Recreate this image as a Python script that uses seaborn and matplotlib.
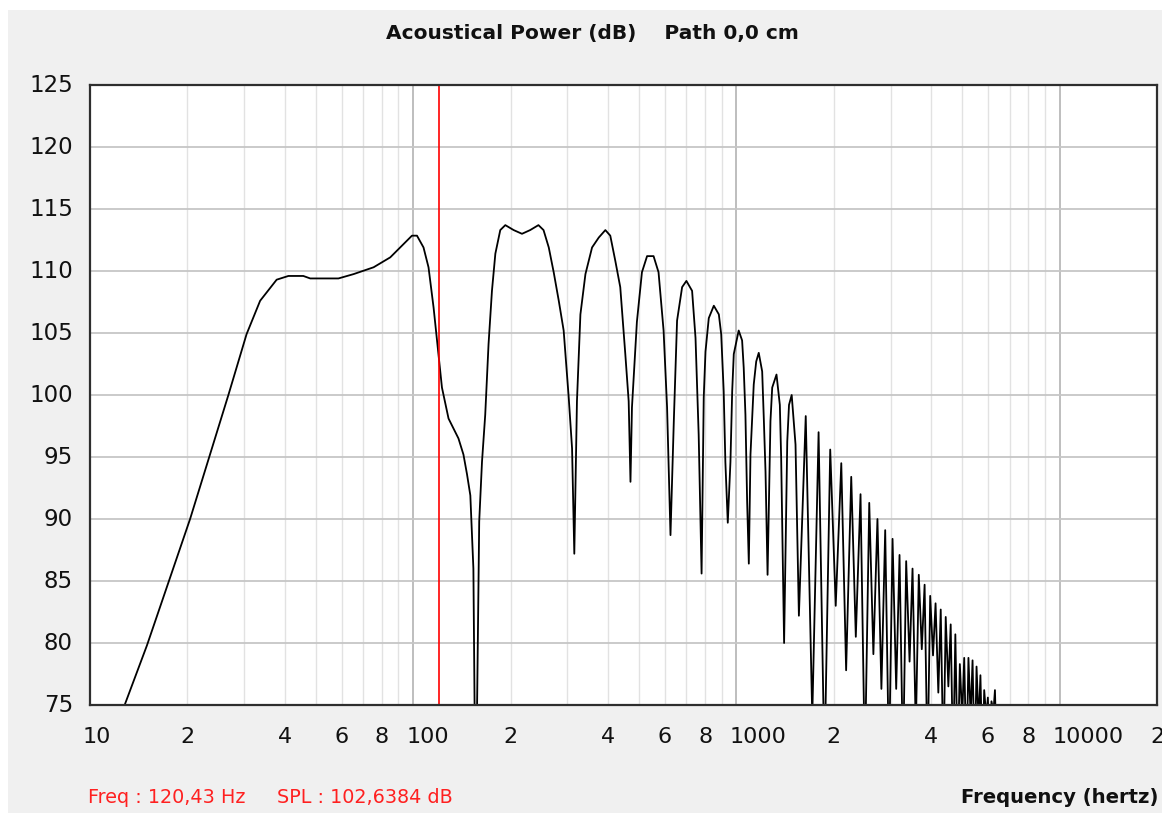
import matplotlib
matplotlib.use("Agg")
import matplotlib.pyplot as plt
import matplotlib.transforms as mtransforms
from matplotlib.patches import Rectangle
import pandas as pd
import seaborn as sns

# ---------------- data ----------------
# smooth low / mid frequency part of the response (Hz, dB)
smooth_freq = [12.8, 15.0, 20.4, 26.8, 30.5, 33.6, 37.8, 41.1, 45.7, 48.0, 58.7, 65.4, 75.4, 84.9,
               99.1, 102.7, 107.6, 111.5, 115.6, 119.7, 122.7, 128.6, 138, 143, 146.7, 150.2, 153.5,
               156, 160, 163.2, 167, 171, 175.2, 179.5, 185.9, 192.7, 204.5, 217, 230, 244, 253,
               262.6, 272, 282, 292, 302.7, 310, 315, 321, 329, 341, 357.5, 375, 393, 407, 422,
               437, 453, 464, 470, 475, 492, 510, 529, 554, 574, 595, 610, 625, 640, 655, 679,
               700, 729, 747, 764, 780, 792, 802, 821, 851, 882, 897, 913, 924, 940, 958, 970,
               981, 1016, 1041, 1053, 1066, 1079, 1092, 1105, 1131, 1151, 1172, 1201, 1215, 1230,
               1248, 1274, 1290, 1330, 1362, 1375, 1404, 1436, 1454, 1482, 1523, 1560]
smooth_db = [75.0, 79.8, 90.0, 100.0, 104.9, 107.6, 109.3, 109.6, 109.6, 109.4, 109.4, 109.75, 110.3, 111.1,
             112.85, 112.85, 111.9, 110.3, 107.05, 103.3, 100.6, 98.1, 96.5, 95.2, 93.6, 91.9, 86.0,
             65.0, 89.8, 94.6, 98.4, 104.1, 108.4, 111.4, 113.3, 113.7, 113.3, 113.0, 113.3, 113.7, 113.3,
             111.9, 109.9, 107.6, 105.2, 99.8, 95.7, 87.2, 99.5, 106.5, 109.75, 111.9, 112.7, 113.3, 112.85, 110.8,
             108.7, 103.3, 99.5, 93.0, 99.0, 105.9, 109.9, 111.2, 111.2, 109.9, 105.2, 99.0, 88.7, 97.9, 106.0, 108.7,
             109.2, 108.4, 104.6, 96.8, 85.6, 99.8, 103.5, 106.2, 107.2, 106.5, 104.9, 100.3, 94.6, 89.7, 94.6, 100.3,
             103.3, 105.2, 104.4, 102.2, 98.4, 91.4, 86.4, 95.2, 100.85, 102.7, 103.4, 101.9, 98.1, 93.8,
             85.5, 97.9, 100.6, 101.65, 99.2, 94.9, 80.0, 96.25, 99.2, 100.0, 96.0, 82.2]

# comb-filter region: lobe peaks and the notches following them
peak_freq = [1638, 1795, 1950, 2110, 2265, 2420, 2575, 2730, 2885, 3040, 3195, 3350, 3505, 3665, 3820,
             3975, 4130, 4285, 4440, 4600, 4755, 4910, 5065, 5220, 5375, 5530, 5685, 5840, 5995, 6150, 6305]
peak_db = [98.3, 97.0, 95.6, 94.5, 93.4, 92.0, 91.3, 90.0, 89.1, 88.4, 87.1, 86.6, 86.0, 85.5, 84.7,
           83.8, 83.2, 82.7, 82.1, 81.5, 80.7, 78.3, 78.8, 78.8, 78.6, 78.1, 77.4, 76.2, 75.6, 75.3, 76.2]
notch_freq = [1716, 1872, 2028, 2184, 2340, 2496, 2652, 2808, 2964, 3120, 3276, 3432, 3588, 3744, 3900,
              4056, 4212, 4368, 4524, 4680, 4836, 4992, 5148, 5304, 5460, 5616, 5772, 5928, 6084, 6240, 6396]
notch_db = [74.0, 70.0, 83.0, 77.8, 80.5, 70.0, 79.1, 76.3, 70.0, 76.3, 70.0, 78.5, 73.0, 79.5, 70.0,
            79.0, 76.0, 70.0, 76.5, 70.0, 70.0, 74.0, 70.0, 74.0, 70.0, 73.5, 70.0, 74.0, 70.0, 74.5, 70.0]

cursor_freq = 120.43
cursor_spl = 102.6384

y_ticks = [125, 120, 115, 110, 105, 100, 95, 90, 85, 80, 75]
x_tick_freqs = [10, 20, 40, 60, 80, 100, 200, 400, 600, 800, 1000, 2000, 4000, 6000, 8000, 10000, 20000]
x_tick_labels = ["10", "2", "4", "6", "8", "100", "2", "4", "6", "8", "1000", "2", "4", "6", "8", "10000", "2"]
decades = [10, 100, 1000, 10000]
minor_grid = [m * d for d in [10, 100, 1000] for m in range(2, 10)] + [20000]

title_text = "Acoustical Power (dB)    Path 0,0 cm"
x_label = "Frequency (hertz)"

# ---------------- build curve table ----------------
curve_freq = list(smooth_freq)
curve_db = list(smooth_db)
for pf, pd_, nf, nd in zip(peak_freq, peak_db, notch_freq, notch_db):
    curve_freq += [pf, nf]
    curve_db += [pd_, nd]
df = pd.DataFrame({"freq": curve_freq, "db": curve_db})

# ---------------- figure ----------------
sns.set_style("white")
plt.rcParams["font.family"] = ["DejaVu Sans"]

W, H = 1162, 813
fig = plt.figure(figsize=(W / 100, H / 100), dpi=100)
fig.patch.set_facecolor("#F0F0F0")
fig.patches.append(Rectangle((0, 1 - 10 / H), 1, 10 / H, transform=fig.transFigure,
                             facecolor="white", edgecolor="none", zorder=0))
fig.patches.append(Rectangle((0, 0), 8 / W, 1, transform=fig.transFigure,
                             facecolor="white", edgecolor="none", zorder=0))

L, R, T, B = 90, 1157, 85, 705
ax = fig.add_axes([L / W, 1 - B / H, (R - L) / W, (B - T) / H])
ax.set_facecolor("white")
ax.set_xscale("log")
ax.set_xlim(10, 20000)
ax.set_ylim(75, 125)

# grid
for f in minor_grid:
    ax.axvline(f, color="#e2e2e2", lw=1.0, zorder=1)
for f in decades:
    ax.axvline(f, color="#b9b9b9", lw=1.3, zorder=1)
for y in y_ticks:
    ax.axhline(y, color="#c6c6c6", lw=1.3, zorder=1)

sns.lineplot(data=df, x="freq", y="db", ax=ax, color="black", lw=1.3,
             estimator=None, sort=False, legend=False, zorder=3)
ax.axvline(cursor_freq, color="#ff0000", lw=1.2, zorder=4)

ax.set_xlabel("")
ax.set_ylabel("")
ax.set_xticks([])
ax.set_yticks([])
ax.minorticks_off()
for s in ax.spines.values():
    s.set_color("#2e2e2e")
    s.set_linewidth(1.6)
    s.set_zorder(5)

# y tick labels
ytrans = mtransforms.blended_transform_factory(ax.transAxes, ax.transData)
for y in y_ticks:
    ax.text(-0.016, y, str(y), transform=ytrans, ha="right", va="center",
            fontsize=16.5, color="#111111", clip_on=False)

# x tick labels (first character centred on the gridline)
xtrans = mtransforms.blended_transform_factory(ax.transData, ax.transAxes)
xtrans = xtrans + mtransforms.ScaledTranslation(-7 / 100, 0, fig.dpi_scale_trans)
for f, lab in zip(x_tick_freqs, x_tick_labels):
    ax.text(f, -0.052, lab, transform=xtrans, ha="left", va="center",
            fontsize=16, color="#111111", clip_on=False)

fig.text(592 / W, 1 - 34 / H, title_text, ha="center", va="center",
         fontsize=14.5, fontweight="bold", color="#111111")
fig.text(88 / W, 1 - 797 / H, "Freq : 120,43 Hz", ha="left", va="center",
         fontsize=13.8, color="#ff2020")
fig.text(277 / W, 1 - 797 / H, "SPL : 102,6384 dB", ha="left", va="center",
         fontsize=13.8, color="#ff2020")
fig.text(1158 / W, 1 - 797 / H, x_label, ha="right", va="center",
         fontsize=14.1, fontweight="bold", color="#111111")

fig.savefig("out.png", dpi=100, facecolor=fig.get_facecolor())
